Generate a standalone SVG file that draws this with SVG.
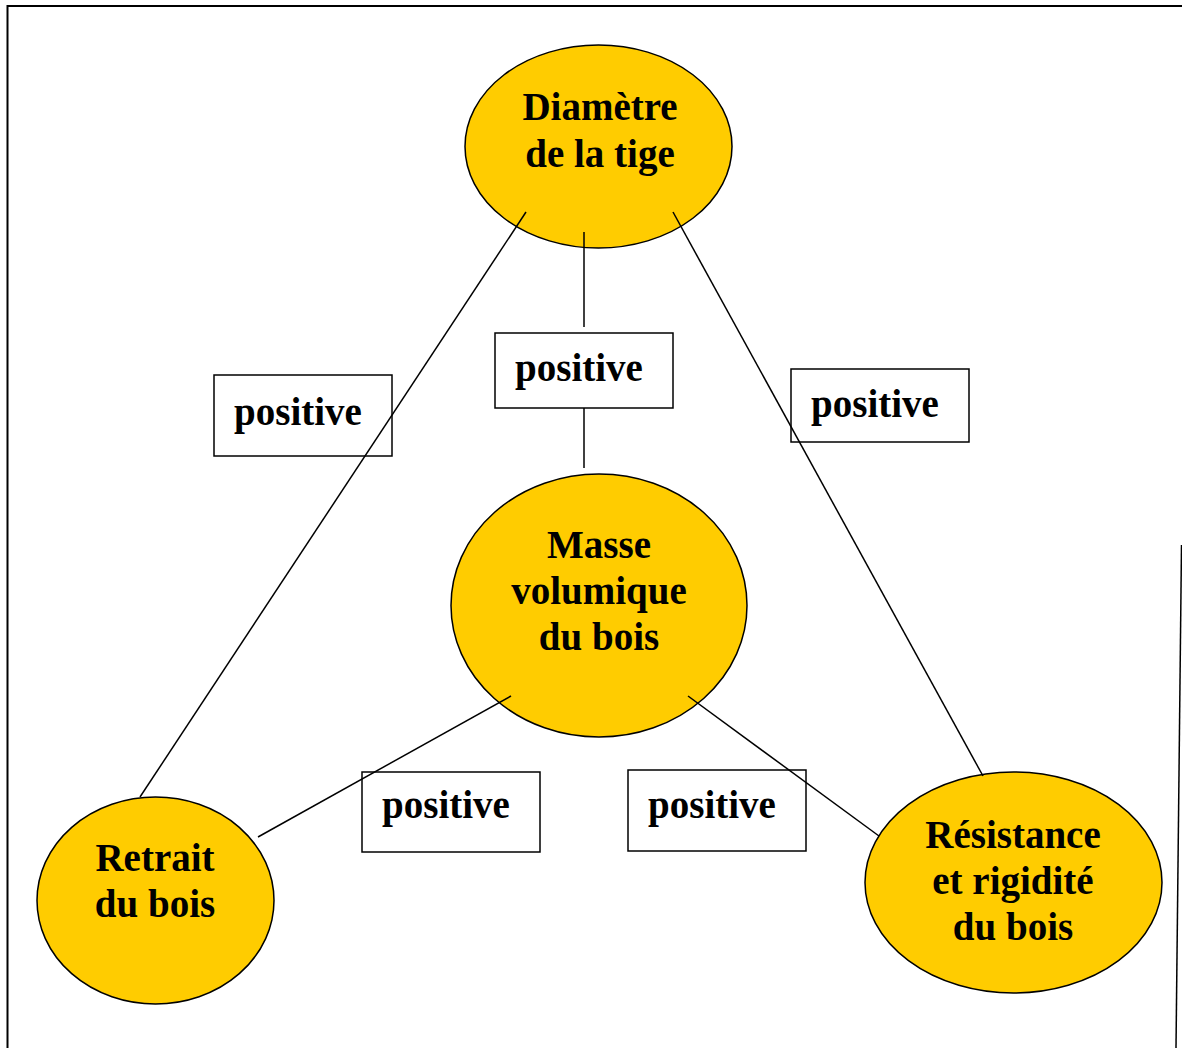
<svg xmlns="http://www.w3.org/2000/svg" width="1182" height="1048" viewBox="0 0 1182 1048">
<style>
.node ellipse{fill:#FFCC00;stroke:#000;stroke-width:1.5}
.box{fill:#fff;stroke:#000;stroke-width:1.5}
text{font-family:"Liberation Serif","Times New Roman",serif;font-weight:bold;font-size:39px;fill:#000;text-anchor:middle}
.conn line{stroke:#000;stroke-width:1.5}
.frame{stroke:#000;fill:none}
</style>
<rect width="1182" height="1048" fill="#fff"/>
<g id="frame">
<path class="frame" d="M7.5 1048 V6 H1182" stroke-width="2"/>
<line class="frame" x1="1181.5" y1="545" x2="1176" y2="1048" stroke-width="1.5"/>
</g>
<g id="node-diametre" class="node">
<ellipse cx="598.5" cy="146.5" rx="133.5" ry="101.5"/>
<text x="600" y="120">Diamètre</text>
<text x="600" y="167">de la tige</text>
</g>
<g id="node-masse" class="node">
<ellipse cx="599" cy="605.5" rx="148" ry="131.5"/>
<text x="599" y="558">Masse</text>
<text x="599" y="604">volumique</text>
<text x="599" y="650">du bois</text>
</g>
<g id="node-retrait" class="node">
<ellipse cx="155.5" cy="900.5" rx="118.5" ry="103.5"/>
<text x="155" y="871">Retrait</text>
<text x="155" y="917">du bois</text>
</g>
<g id="node-resistance" class="node">
<ellipse cx="1013.5" cy="882.5" rx="148.5" ry="110.5"/>
<text x="1013" y="848">Résistance</text>
<text x="1013" y="894">et rigidité</text>
<text x="1013" y="940">du bois</text>
</g>
<g id="label-1"><rect class="box" x="214" y="375" width="178" height="81"/><text x="298" y="425">positive</text></g>
<g id="label-2"><rect class="box" x="495" y="333" width="178" height="75"/><text x="579" y="381">positive</text></g>
<g id="label-3"><rect class="box" x="791" y="369" width="178" height="73"/><text x="875" y="417">positive</text></g>
<g id="label-4"><rect class="box" x="362" y="772" width="178" height="80"/><text x="446" y="818">positive</text></g>
<g id="label-5"><rect class="box" x="628" y="770" width="178" height="81"/><text x="712" y="818">positive</text></g>
<g id="connectors" class="conn">
<line x1="526" y1="212" x2="140" y2="797"/>
<line x1="584" y1="232" x2="584" y2="327"/>
<line x1="584" y1="408" x2="584" y2="468"/>
<line x1="673" y1="212" x2="983" y2="776"/>
<line x1="511" y1="696" x2="258" y2="837"/>
<line x1="688" y1="696" x2="879" y2="836"/>
</g>
</svg>
